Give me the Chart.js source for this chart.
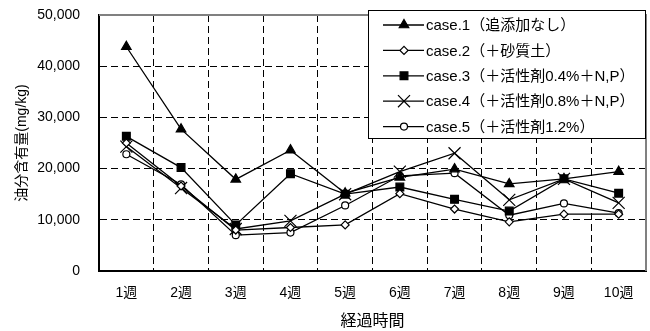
<!DOCTYPE html>
<html><head><meta charset="utf-8">
<script src="https://cdn.jsdelivr.net/npm/chart.js@4/dist/chart.umd.min.js"></script>
<style>html,body{margin:0;padding:0;background:#fff}#wrap{width:650px;height:331px}</style>
</head><body><div id="wrap"><canvas id="c" width="650" height="331"></canvas></div>
<script>
const categories = ['1週','2週','3週','4週','5週','6週','7週','8週','9週','10週'];
const seriesNames = ['case.1（追添加なし）','case.2（＋砂質土）','case.3（＋活性剤0.4%＋N,P）','case.4（＋活性剤0.8%＋N,P）','case.5（＋活性剤1.2%）'];
const case1 = [43800, 27700, 17900, 23600, 15200, 18300, 19900, 17000, 18000, 19400];
const case2 = [25000, 16600, 8000, 8500, 9000, 15100, 12100, 9600, 11100, 11100];
const case3 = [26300, 20200, 9000, 19000, 15000, 16400, 14000, 11700, 18000, 15200];
const case4 = [24300, 16200, 8200, 9800, 15000, 19400, 23000, 13900, 18000, 13300];
const case5 = [22800, 16900, 7000, 7500, 12800, 18600, 19100, 10900, 13200, 11300];
const yMin = 0, yMax = 50000, yStep = 10000;
const xTitle = '経過時間';
const yTitle = '油分含有量(mg/kg)';

const FONT = '"Liberation Sans", Arial, "Noto Sans CJK JP", sans-serif';
const styles = [
  {pointStyle:'triangle', pointRadius:5.5, bg:'#000'},
  {pointStyle:'rectRot', pointRadius:4, bg:'#fff'},
  {pointStyle:'rect', pointRadius:5.5, bg:'#000'},
  {pointStyle:'crossRot', pointRadius:8.5, bg:'#000'},
  {pointStyle:'circle', pointRadius:3.5, bg:'#fff'}
];
const values = [case1, case2, case3, case4, case5];
const datasets = values.map((v, i) => ({
  label: seriesNames[i],
  data: v,
  borderColor: '#000',
  borderWidth: 1.3,
  backgroundColor: styles[i].bg,
  pointStyle: styles[i].pointStyle,
  pointRadius: styles[i].pointRadius,
  pointHoverRadius: styles[i].pointRadius,
  pointBackgroundColor: styles[i].bg,
  pointBorderColor: '#000',
  pointBorderWidth: 1.2,
  fill: false,
  tension: 0
}));

function drawMarker(ctx, st, x, y) {
  if (Chart.helpers && Chart.helpers.drawPoint) {
    ctx.save();
    ctx.fillStyle = st.bg; ctx.strokeStyle = '#000'; ctx.lineWidth = 1.2;
    Chart.helpers.drawPoint(ctx, {pointStyle: st.pointStyle, radius: st.pointRadius, rotation: 0, borderWidth: 1.2}, x, y);
    ctx.restore();
  }
}

const legendPlugin = {
  id: 'boxLegend',
  afterDraw(chart) {
    const ctx = chart.ctx, ca = chart.chartArea;
    ctx.save();
    ctx.strokeStyle = '#808080'; ctx.lineWidth = 2;
    ctx.beginPath();
    ctx.moveTo(ca.left, ca.top); ctx.lineTo(ca.right, ca.top); ctx.lineTo(ca.right, ca.bottom);
    ctx.stroke();
    ctx.restore();
    const bx = ca.right - 278, by = ca.top - 5, bw = 277, bh = 128;
    ctx.save();
    ctx.fillStyle = '#fff'; ctx.fillRect(bx, by, bw, bh);
    ctx.strokeStyle = '#000'; ctx.lineWidth = 1; ctx.strokeRect(bx + 0.5, by + 0.5, bw, bh);
    ctx.font = '15px ' + FONT; ctx.fillStyle = '#000'; ctx.textBaseline = 'middle';
    seriesNames.forEach((n, i) => {
      const y = by + 15 + i * 25.4;
      ctx.strokeStyle = '#000'; ctx.lineWidth = 1.3;
      ctx.beginPath(); ctx.moveTo(bx + 15, y); ctx.lineTo(bx + 56, y); ctx.stroke();
      drawMarker(ctx, styles[i], bx + 36, y);
      ctx.fillStyle = '#000';
      ctx.fillText(n, bx + 58, y + 1);
    });
    ctx.restore();
  }
};

new Chart(document.getElementById('c'), {
  type: 'line',
  data: {labels: categories, datasets},
  options: {
    responsive: false, animation: false, devicePixelRatio: 1,
    layout: {autoPadding: false, padding: {top: 15, right: 4, left: 0, bottom: 0}},
    plugins: {legend: {display: false}, tooltip: {enabled: false}},
    scales: {
      x: {
        offset: true,
        grid: {offset: true, color: '#000', lineWidth: 1, drawTicks: false},
        border: {color: '#000', width: 2, dash: [7, 4]},
        ticks: {color: '#000', font: {size: 14, family: FONT}, padding: 14, maxRotation: 0},
        title: {display: true, text: xTitle, color: '#000', font: {size: 16, family: FONT}, padding: {top: 0, bottom: 0}},
        afterFit(s) { s.height = 60; s.paddingLeft = 0; s.paddingRight = 0; }
      },
      y: {
        min: yMin, max: yMax,
        grid: {color: '#000', lineWidth: 1, drawTicks: false},
        border: {color: '#000', width: 2, dash: [7, 4]},
        ticks: {stepSize: yStep, color: '#000', font: {size: 14, family: FONT}, padding: 19,
          callback: v => Number(v).toLocaleString('en-US')},
        title: {display: true, text: yTitle, color: '#000', font: {size: 14, family: FONT}, padding: {top: 14, bottom: 0}},
        afterFit(s) { s.width = 99; s.paddingTop = 0; s.paddingBottom = 0; }
      }
    }
  },
  plugins: [legendPlugin]
});
</script></body></html>
